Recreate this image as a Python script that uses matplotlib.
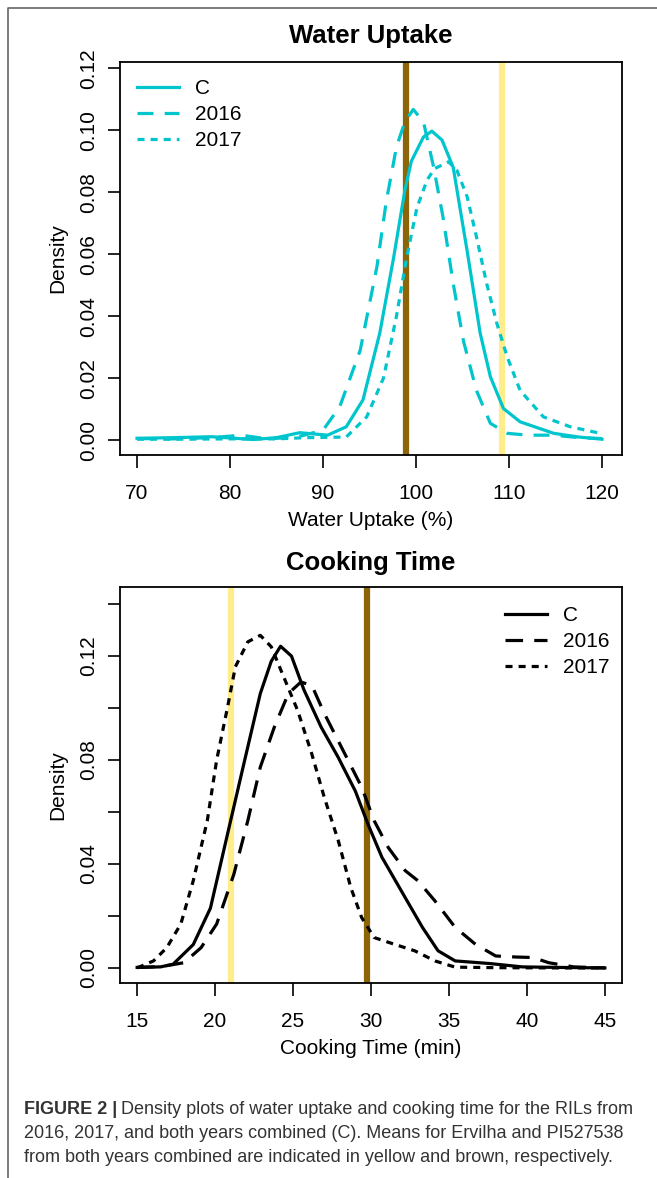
import numpy as np
import matplotlib.pyplot as plt
from matplotlib.lines import Line2D

plt.rcParams['font.family'] = ['Liberation Sans', 'DejaVu Sans']

# colours
cyan = '#00C5CD'
brown = '#8B6508'
yellow = '#FFEC8B'

# water uptake densities
wu_c_x = [70, 74, 78, 82.5, 85, 87.5, 90.5, 92.5, 94.3, 96.1, 97.6, 98.8, 99.5, 100.8,
          101.7, 102.8, 104.0, 105.5, 106.9, 108.0, 109.4, 111.2, 114.8, 117.5, 120]
wu_c_y = [0.0006, 0.0008, 0.0011, 0.0002, 0.0008, 0.0024, 0.0016, 0.0043, 0.013, 0.0345,
          0.059, 0.0806, 0.090, 0.0978, 0.0997, 0.0968, 0.088, 0.061, 0.0345, 0.0204,
          0.0102, 0.0059, 0.0022, 0.0010, 0.0003]
wu_16_x = [70, 74, 78, 81.2, 84, 87.2, 90.0, 91.8, 94.0, 95.8, 96.8, 97.9, 98.8, 99.7,
           100.8, 101.9, 102.9, 104.0, 105.1, 106.5, 108.0, 109.8, 112, 114.8, 117.5, 120]
wu_16_y = [0.0005, 0.0004, 0.0008, 0.0016, 0.0004, 0.001, 0.0032, 0.0108, 0.029, 0.056,
           0.077, 0.0946, 0.1027, 0.1067, 0.1027, 0.088, 0.072, 0.0505, 0.032, 0.016,
           0.0054, 0.0022, 0.0016, 0.0016, 0.0008, 0.0005]
wu_17_x = [70, 75, 80, 85, 88.2, 92.5, 94.7, 96.5, 97.9, 99.0, 100.1, 101.2, 102.0, 103.5,
           104.4, 105.5, 106.5, 107.6, 108.7, 109.8, 111.2, 113.7, 116.6, 119.8]
wu_17_y = [0.0003, 0.0003, 0.0004, 0.0004, 0.0008, 0.001, 0.0075, 0.020, 0.040, 0.059,
           0.075, 0.084, 0.0876, 0.0898, 0.087, 0.0785, 0.0656, 0.0505, 0.0376, 0.0269,
           0.016, 0.0075, 0.0043, 0.0022]
wu_means = [109.2, 98.9]   # Ervilha, PI527538

# cooking time densities
ct_c_x = [15, 16.5, 17.3, 18.6, 19.7, 20.8, 21.9, 22.9, 23.6, 24.2, 24.9, 25.7, 26.8, 27.9,
          29.0, 29.8, 30.7, 32.2, 33.3, 34.3, 35.4, 37.6, 39.7, 42, 45]
ct_c_y = [0.0002, 0.0004, 0.0014, 0.009, 0.023, 0.0516, 0.080, 0.1056, 0.118, 0.1238, 0.120,
          0.107, 0.0927, 0.081, 0.068, 0.0554, 0.0426, 0.027, 0.0156, 0.0066, 0.0027,
          0.0017, 0.0004, 0.0002, 0.0]
ct_16_x = [15, 16.5, 18.0, 19.1, 20.1, 21.2, 22.1, 22.9, 23.8, 24.7, 25.5, 26.2, 27.0, 28.1,
           29.4, 30.2, 31.1, 32.2, 33.0, 34.1, 35.4, 36.7, 38.0, 39.3, 40.4, 41.4, 43, 45]
ct_16_y = [0.0002, 0.0005, 0.002, 0.0078, 0.0169, 0.036, 0.0567, 0.0773, 0.0927, 0.1056,
           0.110, 0.1088, 0.098, 0.085, 0.0696, 0.0567, 0.0464, 0.0374, 0.0336, 0.0258,
           0.0156, 0.0091, 0.0046, 0.0042, 0.004, 0.002, 0.0004, 0.0]
ct_17_x = [15, 16.05, 16.9, 17.8, 18.6, 19.5, 20.1, 20.8, 21.3, 22.1, 22.9, 23.6, 24.4, 25.3,
           26.2, 27.0, 27.9, 28.7, 29.4, 30.2, 31.5, 32.8, 34.1, 35.4, 38, 42, 45]
ct_17_y = [0.0, 0.0027, 0.0078, 0.0169, 0.0336, 0.0567, 0.080, 0.1004, 0.1159, 0.1255, 0.128,
           0.1236, 0.112, 0.099, 0.0824, 0.0657, 0.049, 0.031, 0.0194, 0.0117, 0.0091,
           0.0066, 0.0027, 0.0003, 0.0001, 0.0, 0.0]
ct_means = [21.0, 29.75]

labels = ['C', '2016', '2017']
W, H = 657, 1178
FS = 15
fig = plt.figure(figsize=(W / 100, H / 100), dpi=100)

def px_axes(l, t, r, b):
    return fig.add_axes([l / W, 1 - b / H, (r - l) / W, (b - t) / H])

def style(ax):
    for s in ax.spines.values():
        s.set_linewidth(1.3)
    ax.tick_params(direction='out', length=9, width=1.2, labelsize=FS)
    ax.tick_params(axis='x', pad=12)
    ax.tick_params(axis='y', pad=7, labelrotation=90)
    plt.setp(ax.get_yticklabels(), va='center')

dash = (0, (5, 3.5))
dot = (0, (2.2, 1.9))
leg_kw = dict(frameon=False, fontsize=FS, handlelength=2.0, handletextpad=0.8,
              labelspacing=0.34, borderpad=0, borderaxespad=0)

# top panel
ax1 = px_axes(120, 62, 622, 455)
for xm, col in zip(wu_means, [yellow, brown]):
    ax1.axvline(xm, color=col, lw=4.5, zorder=1)
ax1.plot(wu_c_x, wu_c_y, color=cyan, lw=2.3, label=labels[0], zorder=3)
ax1.plot(wu_16_x, wu_16_y, color=cyan, lw=2.3, ls=dash, label=labels[1], zorder=3)
ax1.plot(wu_17_x, wu_17_y, color=cyan, lw=2.3, ls=dot, label=labels[2], zorder=3)
ax1.set_xlim(68.17, 122.15)
ax1.set_ylim(-0.0048, 0.122)
ax1.set_xticks(np.arange(70, 121, 10))
ax1.set_yticks(np.arange(0, 0.121, 0.02))
ax1.set_yticklabels(['%.2f' % v for v in np.arange(0, 0.121, 0.02)])
style(ax1)
ax1.legend(loc='upper left', bbox_to_anchor=(0.034, 0.957), **leg_kw)

# bottom panel
ax2 = px_axes(120, 587, 622, 983)
for xm, col in zip(ct_means, [yellow, brown]):
    ax2.axvline(xm, color=col, lw=4.5, zorder=1)
ax2.plot(ct_c_x, ct_c_y, color='black', lw=2.3, label=labels[0], zorder=3)
ax2.plot(ct_16_x, ct_16_y, color='black', lw=2.3, ls=(0, (5.5, 3.5)), label=labels[1], zorder=3)
ax2.plot(ct_17_x, ct_17_y, color='black', lw=2.3, ls=dot, label=labels[2], zorder=3)
ax2.set_xlim(13.9, 46.1)
ax2.set_ylim(-0.0058, 0.1466)
ax2.set_xticks(np.arange(15, 46, 5))
yt = np.arange(0, 0.141, 0.02)
ax2.set_yticks(yt)
ax2.set_yticklabels(['%.2f' % v if i % 2 == 0 else '' for i, v in enumerate(yt)])
style(ax2)
ax2.legend(loc='upper right', bbox_to_anchor=(0.976, 0.952), **leg_kw)

# titles and axis labels
def ftext(x, y, s, **kw):
    fig.text(x / W, 1 - y / H, s, ha='center', va='center', **kw)

ftext(371, 36, 'Water Uptake', fontsize=18.5, fontweight='bold')
ftext(371, 521, 'Water Uptake (%)', fontsize=FS)
ftext(58, 258, 'Density', fontsize=FS, rotation=90)
ftext(371, 563, 'Cooking Time', fontsize=18.5, fontweight='bold')
ftext(371, 1048, 'Cooking Time (min)', fontsize=FS)
ftext(58, 785, 'Density', fontsize=FS, rotation=90)

# outer frame (left and top edges)
fig.add_artist(Line2D([8 / W, 8 / W, 1], [0, 1 - 8 / H, 1 - 8 / H], color='#666666', lw=1.2))

# caption
cap_col = '#333333'
cap_fs = 13
renderer = fig.canvas.get_renderer()
t0 = fig.text(24 / W, 1 - 1110 / H, 'FIGURE 2 |', fontsize=cap_fs, fontweight='bold',
              color=cap_col, va='center', ha='left')
bb = t0.get_window_extent(renderer)
fig.text((bb.x1 + 4) / W, 1 - 1110 / H,
         'Density plots of water uptake and cooking time for the RILs from',
         fontsize=cap_fs, color=cap_col, va='center', ha='left')
fig.text(24 / W, 1 - 1134 / H,
         '2016, 2017, and both years combined (C). Means for Ervilha and PI527538',
         fontsize=cap_fs, color=cap_col, va='center', ha='left')
fig.text(24 / W, 1 - 1157 / H,
         'from both years combined are indicated in yellow and brown, respectively.',
         fontsize=cap_fs, color=cap_col, va='center', ha='left')

fig.savefig('out.png', dpi=100)
